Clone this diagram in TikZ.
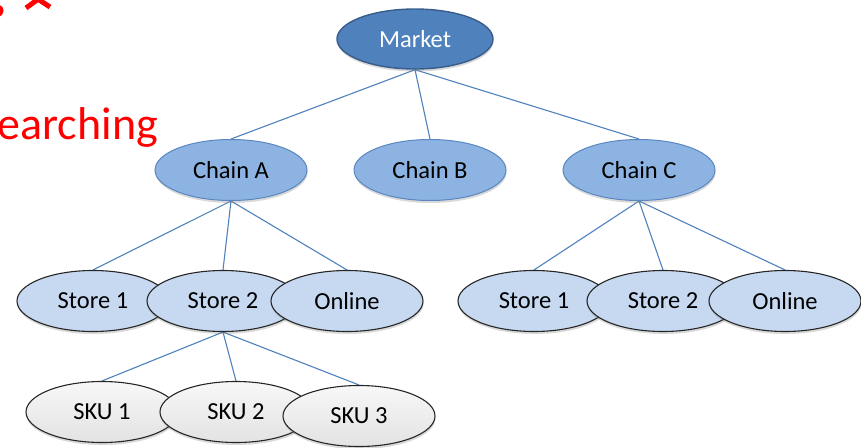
\documentclass[tikz,border=0pt]{standalone}
\usepackage{fontspec}
\setmainfont{Carlito}
\usetikzlibrary{shapes.geometric,shadows,backgrounds}

\definecolor{mktfill}{HTML}{4F81BD}
\definecolor{mktline}{HTML}{385D8A}
\definecolor{chainfill}{HTML}{8DB3E2}
\definecolor{chainline}{HTML}{5A87C0}
\definecolor{storefill}{HTML}{C6D9F1}
\definecolor{ovalline}{HTML}{262626}
\definecolor{linkblue}{HTML}{4F81BD}

\tikzset{
  oval/.style={ellipse, minimum width=152pt, minimum height=61pt, inner sep=0pt,
    font=\fontsize{24.5}{28}\selectfont,
    drop shadow={shadow xshift=0.5pt, shadow yshift=-2.5pt, opacity=0.3}},
  market/.style={oval, minimum width=156pt, minimum height=60pt,
    fill=mktfill, draw=mktline, line width=1.4pt, text=white},
  chain/.style={oval, fill=chainfill, draw=chainline, line width=1pt},
  store/.style={oval, fill=storefill, draw=ovalline, line width=1.1pt},
  sku/.style={oval, top color=gray!6, bottom color=gray!22, draw=ovalline, line width=1.1pt},
  link/.style={draw=linkblue, line width=1.1pt},
  redtext/.style={text=red, inner sep=0pt, font=\fontsize{46}{55}\selectfont}
}

\begin{document}
\begin{tikzpicture}[x=1pt, y=-1pt]
\useasboundingbox (0,0) rectangle (861,447);

% partly visible red heading text
\node[redtext, anchor=base east] (hs) at (6,17) {s};
\draw[red, line width=5pt] (26,8) -- (48,-8) (50,7) -- (27,-8);
\node[redtext, anchor=base east] (srch) at (158,139) {earching};

% hierarchy nodes
\node[market] (mkt) at (415,39) {Market};

\node[chain] (ca) at (231,170) {Chain A};
\node[chain] (cb) at (430,170) {Chain B};
\node[chain] (cc) at (639,170) {Chain C};

\node[store] (a1) at (93,301) {Store 1};
\node[store] (a2) at (223,301) {Store 2};
\node[store] (a3) at (347,301) {Online};

\node[store] (c1) at (534,301) {Store 1};
\node[store] (c2) at (663,301) {Store 2};
\node[store] (c3) at (785,301) {Online};

\node[sku] (s1) at (102,412) {SKU 1};
\node[sku] (s2) at (236,412) {SKU 2};
\node[sku] (s3) at (359,416) {SKU 3};

% connectors
\begin{pgfonlayer}{background}
\foreach \c in {ca,cb,cc} \draw[link] (mkt.south) -- (\c.north);
\foreach \c in {a1,a2,a3} \draw[link] (ca.south) -- (\c.north);
\foreach \c in {c1,c2,c3} \draw[link] (cc.south) -- (\c.north);
\foreach \c in {s1,s2,s3} \draw[link] (a2.south) -- (\c.north);
\end{pgfonlayer}
\end{tikzpicture}
\end{document}
